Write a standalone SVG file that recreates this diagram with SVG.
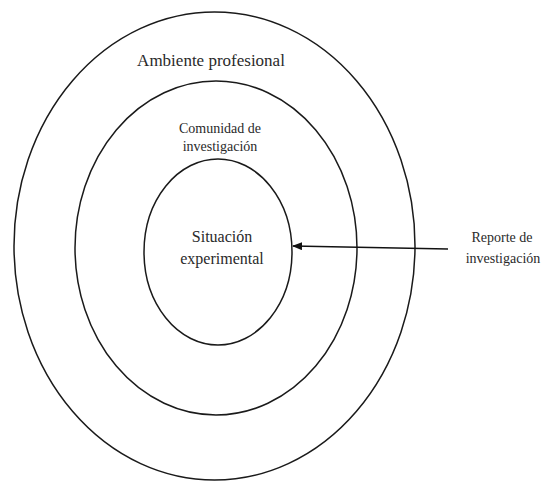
<svg xmlns="http://www.w3.org/2000/svg" width="543" height="481" viewBox="0 0 543 481">
<defs>
<style>
.ring{fill:none;stroke:#1a1a1a;stroke-width:1.5}
.t{font-family:"Liberation Serif","Times New Roman","DejaVu Serif",serif;fill:#2a2a2a;text-anchor:middle}
</style>
<marker id="ah" markerWidth="10" markerHeight="8" refX="9" refY="4" orient="auto" markerUnits="userSpaceOnUse">
<path d="M0,0 L10,4 L0,8 Z" fill="#111"/>
</marker>
</defs>
<rect width="543" height="481" fill="#fff"/>
<g id="ambiente">
<ellipse class="ring" cx="214.5" cy="246" rx="200.5" ry="234"/>
<text class="t" x="211" y="66" font-size="17">Ambiente profesional</text>
</g>
<g id="comunidad">
<ellipse class="ring" cx="216" cy="248" rx="141" ry="167"/>
<text class="t" x="220" y="133" font-size="14">Comunidad de</text>
<text class="t" x="220" y="151" font-size="14">investigación</text>
</g>
<g id="situacion">
<ellipse class="ring" cx="218" cy="252" rx="74" ry="93"/>
<text class="t" x="222" y="242" font-size="16">Situación</text>
<text class="t" x="222" y="264" font-size="16">experimental</text>
</g>
<g id="reporte">
<text class="t" x="502" y="242" font-size="14">Reporte de</text>
<text class="t" x="503" y="263" font-size="14">investigación</text>
</g>
<g id="connectors">
<line x1="448" y1="249" x2="293" y2="246" stroke="#111" stroke-width="1.5" marker-end="url(#ah)"/>
</g>
</svg>
